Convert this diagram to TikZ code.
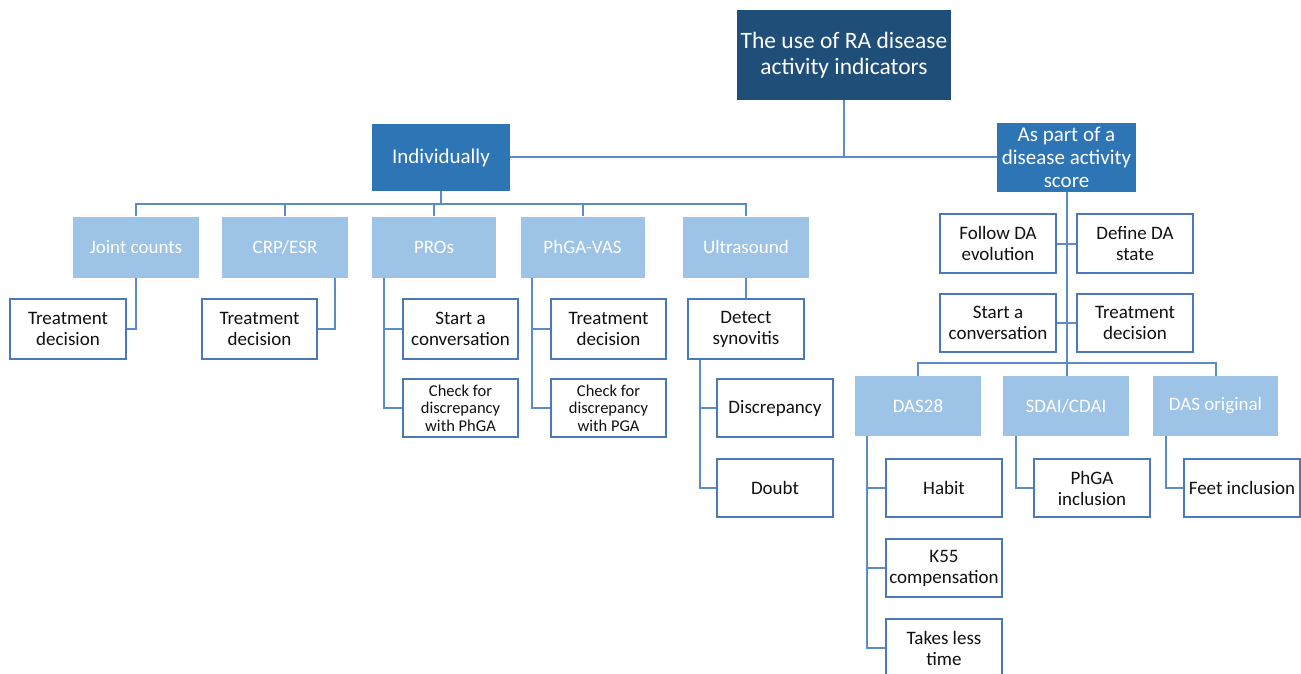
\documentclass[tikz,border=0pt]{standalone}
\usepackage{fontspec}
\setmainfont{Carlito}
\definecolor{navy}{HTML}{1F4E79}
\definecolor{midblue}{HTML}{2E75B6}
\definecolor{lightblue}{HTML}{9DC3E6}
\definecolor{linecol}{HTML}{5B8CC6}
\definecolor{bordercol}{HTML}{4A78B8}
\definecolor{txt}{HTML}{111111}
\begin{document}
\begin{tikzpicture}[x=1pt,y=-1pt,
  topbox/.style={fill=navy,text=white,inner sep=0pt,minimum width=214pt,minimum height=90pt,align=center,font=\fontsize{23.5}{26}\selectfont},
  midbox/.style={fill=midblue,text=white,inner sep=0pt,minimum width=139pt,minimum height=68pt,align=center,font=\fontsize{21}{23}\selectfont},
  catbox/.style={fill=lightblue,text=white,inner sep=0pt,minimum width=126pt,minimum height=61pt,align=center,font=\fontsize{19}{21}\selectfont},
  leaf/.style={draw=bordercol,line width=1.6pt,fill=white,text=txt,inner sep=0pt,minimum width=116pt,minimum height=59pt,align=center,font=\fontsize{19}{21}\selectfont},
  smallleaf/.style={leaf,font=\fontsize{16.5}{17.5}\selectfont},
  conn/.style={draw=linecol,line width=2pt}]
\useasboundingbox (0,0) rectangle (1301,674);
% top level
\node[topbox] (top) at (844,55) {The use of RA disease\\activity indicators};
\node[midbox,minimum width=138pt,minimum height=67pt] (ind) at (441,157.5) {Individually};
\node[midbox] (asp) at (1066.5,157.5) {As part of a\\disease activity\\score};
% left categories
\node[catbox] (jc) at (136,247) {Joint counts};
\node[catbox] (crp) at (285,247) {CRP/ESR};
\node[catbox,minimum width=124pt] (pros) at (434,247) {PROs};
\node[catbox,minimum width=124pt] (phga) at (582.5,247) {PhGA-VAS};
\node[catbox] (us) at (746,247) {Ultrasound};
% left leaves
\node[leaf,minimum height=60pt] (jc1) at (68,329) {Treatment\\decision};
\node[leaf,minimum width=115pt,minimum height=60pt] (crp1) at (259.5,329) {Treatment\\decision};
\node[leaf,minimum width=115pt,minimum height=60pt] (pros1) at (460.5,329) {Start a\\conversation};
\node[smallleaf,minimum width=115pt,minimum height=58pt] (pros2) at (460.5,408) {Check for\\discrepancy\\with PhGA};
\node[leaf,minimum width=115pt,minimum height=60pt] (phga1) at (608.5,329) {Treatment\\decision};
\node[smallleaf,minimum width=115pt,minimum height=58pt] (phga2) at (608.5,408) {Check for\\discrepancy\\with PGA};
\node[leaf,minimum height=60pt] (us1) at (746,329) {Detect\\synovitis};
\node[leaf,minimum height=58pt] (us2) at (775,408) {Discrepancy};
\node[leaf,minimum height=58pt] (us3) at (775,488) {Doubt};
% right side leaves
\node[leaf] (fda) at (998,243.5) {Follow DA\\evolution};
\node[leaf] (dds) at (1135,243.5) {Define DA\\state};
\node[leaf,minimum height=58pt] (sac) at (998,323) {Start a\\conversation};
\node[leaf,minimum height=58pt] (rtd) at (1135,323) {Treatment\\decision};
% right categories
\node[catbox,minimum height=60pt] (das28) at (918,406) {DAS28};
\node[catbox,minimum height=60pt] (sdai) at (1066,406) {SDAI/CDAI};
\node[catbox,minimum width=125pt,minimum height=60pt] (dasor) at (1215.5,406) {DAS original};
% right leaves
\node[leaf,minimum height=58pt] (habit) at (944,488) {Habit};
\node[leaf,minimum height=58pt] (k55) at (944,568) {K55\\compensation};
\node[leaf,minimum height=58pt] (tlt) at (944,648) {Takes less\\time};
\node[leaf,minimum height=58pt] (phgai) at (1092,488) {PhGA\\inclusion};
\node[leaf,minimum height=58pt] (feet) at (1242,488) {Feet inclusion};
% bus coordinates
\coordinate (bus) at (0,204);
\coordinate (busr) at (0,363);
% connectors top
\draw[conn] (ind.east) -- (asp.west);
\draw[conn] (top.south) -- (top.south |- ind.east);
\draw[conn] (ind.south) -- (ind.south |- bus);
\draw[conn] (jc.north) -- (jc.north |- bus) -- (us.north |- bus) -- (us.north);
\draw[conn] (crp.north) -- (crp.north |- bus);
\draw[conn] (pros.north) -- (pros.north |- bus);
\draw[conn] (phga.north) -- (phga.north |- bus);
% left children
\draw[conn] (jc.south) |- (jc1.east);
\draw[conn] ([xshift=50pt]crp.south) |- (crp1.east);
\draw[conn] ([xshift=-50pt]pros.south) |- (pros1.west);
\draw[conn] ([xshift=-50pt]pros.south) |- (pros2.west);
\draw[conn] ([xshift=-50.5pt]phga.south) |- (phga1.west);
\draw[conn] ([xshift=-50.5pt]phga.south) |- (phga2.west);
\draw[conn] (us.south) -- (us1.north);
\draw[conn] ([xshift=-46pt]us1.south) |- (us2.west);
\draw[conn] ([xshift=-46pt]us1.south) |- (us3.west);
% right
\draw[conn] (asp.south) -- (asp.south |- sdai.north);
\draw[conn] (fda.east) -- (dds.west);
\draw[conn] (sac.east) -- (rtd.west);
\draw[conn] (das28.north) -- (das28.north |- busr) -- (dasor.north |- busr) -- (dasor.north);
\draw[conn] ([xshift=-51pt]das28.south) |- (habit.west);
\draw[conn] ([xshift=-51pt]das28.south) |- (k55.west);
\draw[conn] ([xshift=-51pt]das28.south) |- (tlt.west);
\draw[conn] ([xshift=-50pt]sdai.south) |- (phgai.west);
\draw[conn] ([xshift=-49.5pt]dasor.south) |- (feet.west);
\end{tikzpicture}
\end{document}
